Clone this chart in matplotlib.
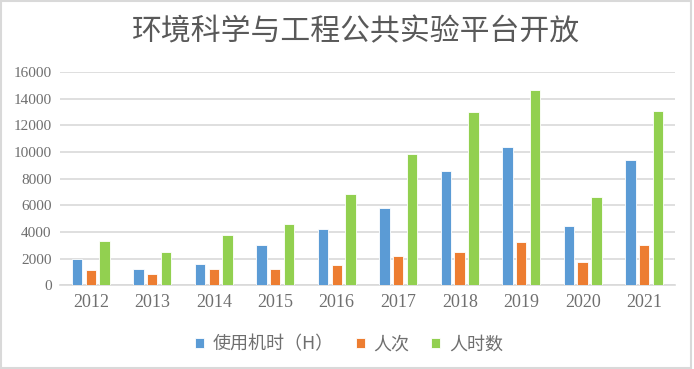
import matplotlib
matplotlib.use("Agg")
import matplotlib.pyplot as plt
from matplotlib.patches import Rectangle
import numpy as np

# data
years = ["2012", "2013", "2014", "2015", "2016", "2017", "2018", "2019", "2020", "2021"]
machine_hours = [2000, 1250, 1620, 3025, 4225, 5820, 8550, 10350, 4450, 9420]
person_times = [1150, 870, 1250, 1250, 1525, 2175, 2475, 3225, 1750, 3025]
person_hours = [3325, 2475, 3775, 4620, 6870, 9850, 12975, 14650, 6600, 13050]
series_names = ["使用机时（H）", "人次", "人时数"]
colors = ["#5B9BD5", "#ED7D31", "#92D050"]

plt.rcParams['font.family'] = ['Noto Sans CJK SC', 'DejaVu Sans']

fig = plt.figure(figsize=(6.94, 3.69), dpi=100)
ax = fig.add_axes([0.0865, 0.2268, 0.886, 0.578])

# outer frame of the chart
fig.patches.append(Rectangle((0.002, 0.004), 0.994, 0.992, transform=fig.transFigure,
                             fill=False, edgecolor="#D9D9D9", lw=1.5))

x = np.arange(len(years))
width = 0.17
offset = 0.225
for i, (vals, name, c) in enumerate(zip([machine_hours, person_times, person_hours],
                                        series_names, colors)):
    ax.bar(x + (i - 1) * offset, vals, width, color=c, label=name,
           edgecolor="#FFFFFF", linewidth=0.6, zorder=3)

ax.set_xlim(-0.5, len(years) - 0.5)
ax.set_ylim(0, 16000)
ax.set_yticks(np.arange(0, 16001, 2000))
ax.set_xticks(x)
ax.set_xticklabels(years)
ax.grid(axis="y", color="#D9D9D9", lw=1.2, zorder=0)
for s in ["top", "right", "left"]:
    ax.spines[s].set_visible(False)
ax.spines["bottom"].set_color("#D9D9D9")
ax.spines["bottom"].set_linewidth(1.2)
ax.tick_params(axis="both", length=0, colors="#6F6F6F")
for lab in ax.get_xticklabels():
    lab.set_family(["Liberation Serif"])
    lab.set_fontsize(13)
for lab in ax.get_yticklabels():
    lab.set_family(["Liberation Serif"])
    lab.set_fontsize(11)
ax.tick_params(axis="x", pad=6)
ax.tick_params(axis="y", pad=6)

fig.text(0.513, 0.913, "环境科学与工程公共实验平台开放", ha="center", va="center",
         fontsize=21.5, color="#595959")

leg = fig.legend(loc="center", bbox_to_anchor=(0.503, 0.067), ncol=3, frameon=False,
                 fontsize=13, handlelength=0.5, handleheight=0.5, handletextpad=0.5,
                 columnspacing=1.2, labelcolor="#6F6F6F")

fig.savefig("out.png", dpi=100)
